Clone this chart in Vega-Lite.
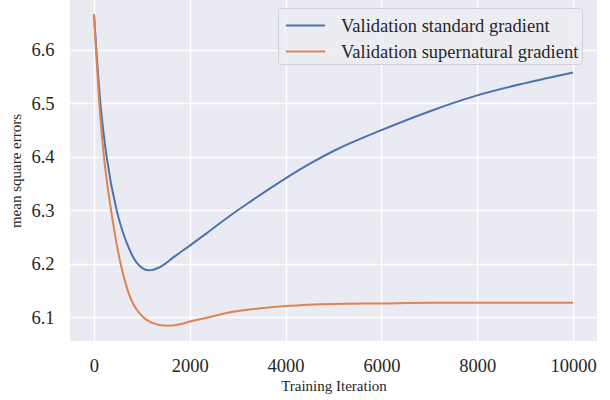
{
  "$schema": "https://vega.github.io/schema/vega-lite/v6.json",
  "width": 527,
  "height": 341,
  "autosize": {"type": "none"},
  "padding": {"left": 70, "top": 0, "right": 13, "bottom": 59},
  "background": "white",
  "config": {
    "font": "Liberation Serif",
    "view": {"fill": "#eaeaf2", "stroke": null},
    "axis": {
      "grid": true, "gridColor": "white", "gridWidth": 1.5,
      "domain": false, "ticks": false,
      "labelColor": "#262626", "titleColor": "#262626",
      "labelFont": "Liberation Serif", "titleFont": "Liberation Serif",
      "labelFontSize": 18.5, "titleFontSize": 15, "titleFontWeight": "normal"
    }
  },
  "data": {
    "values": [
      {"iter": 0, "mse": 6.667, "series": "Validation standard gradient"},
      {"iter": 50, "mse": 6.6, "series": "Validation standard gradient"},
      {"iter": 135, "mse": 6.5, "series": "Validation standard gradient"},
      {"iter": 265, "mse": 6.4, "series": "Validation standard gradient"},
      {"iter": 474, "mse": 6.3, "series": "Validation standard gradient"},
      {"iter": 600, "mse": 6.26, "series": "Validation standard gradient"},
      {"iter": 717, "mse": 6.232, "series": "Validation standard gradient"},
      {"iter": 821, "mse": 6.212, "series": "Validation standard gradient"},
      {"iter": 955, "mse": 6.196, "series": "Validation standard gradient"},
      {"iter": 1150, "mse": 6.188, "series": "Validation standard gradient"},
      {"iter": 1378, "mse": 6.194, "series": "Validation standard gradient"},
      {"iter": 1656, "mse": 6.212, "series": "Validation standard gradient"},
      {"iter": 2000, "mse": 6.234, "series": "Validation standard gradient"},
      {"iter": 2349, "mse": 6.257, "series": "Validation standard gradient"},
      {"iter": 2839, "mse": 6.29, "series": "Validation standard gradient"},
      {"iter": 3257, "mse": 6.316, "series": "Validation standard gradient"},
      {"iter": 3605, "mse": 6.337, "series": "Validation standard gradient"},
      {"iter": 4000, "mse": 6.36, "series": "Validation standard gradient"},
      {"iter": 4500, "mse": 6.387, "series": "Validation standard gradient"},
      {"iter": 5000, "mse": 6.411, "series": "Validation standard gradient"},
      {"iter": 6000, "mse": 6.45, "series": "Validation standard gradient"},
      {"iter": 7000, "mse": 6.485, "series": "Validation standard gradient"},
      {"iter": 8000, "mse": 6.515, "series": "Validation standard gradient"},
      {"iter": 9000, "mse": 6.538, "series": "Validation standard gradient"},
      {"iter": 10000, "mse": 6.558, "series": "Validation standard gradient"},
      {"iter": 0, "mse": 6.667, "series": "Validation supernatural gradient"},
      {"iter": 42, "mse": 6.6, "series": "Validation supernatural gradient"},
      {"iter": 111, "mse": 6.5, "series": "Validation supernatural gradient"},
      {"iter": 209, "mse": 6.4, "series": "Validation supernatural gradient"},
      {"iter": 358, "mse": 6.3, "series": "Validation supernatural gradient"},
      {"iter": 557, "mse": 6.2, "series": "Validation supernatural gradient"},
      {"iter": 640, "mse": 6.17, "series": "Validation supernatural gradient"},
      {"iter": 717, "mse": 6.147, "series": "Validation supernatural gradient"},
      {"iter": 820, "mse": 6.125, "series": "Validation supernatural gradient"},
      {"iter": 920, "mse": 6.111, "series": "Validation supernatural gradient"},
      {"iter": 1030, "mse": 6.1, "series": "Validation supernatural gradient"},
      {"iter": 1200, "mse": 6.09, "series": "Validation supernatural gradient"},
      {"iter": 1517, "mse": 6.084, "series": "Validation supernatural gradient"},
      {"iter": 1800, "mse": 6.087, "series": "Validation supernatural gradient"},
      {"iter": 2000, "mse": 6.092, "series": "Validation supernatural gradient"},
      {"iter": 2400, "mse": 6.1, "series": "Validation supernatural gradient"},
      {"iter": 2770, "mse": 6.108, "series": "Validation supernatural gradient"},
      {"iter": 3200, "mse": 6.114, "series": "Validation supernatural gradient"},
      {"iter": 4000, "mse": 6.121, "series": "Validation supernatural gradient"},
      {"iter": 5000, "mse": 6.125, "series": "Validation supernatural gradient"},
      {"iter": 6000, "mse": 6.126, "series": "Validation supernatural gradient"},
      {"iter": 7000, "mse": 6.127, "series": "Validation supernatural gradient"},
      {"iter": 8000, "mse": 6.127, "series": "Validation supernatural gradient"},
      {"iter": 10000, "mse": 6.127, "series": "Validation supernatural gradient"}
    ]
  },
  "mark": {"type": "line", "interpolate": "monotone", "strokeWidth": 2, "clip": true},
  "encoding": {
    "x": {
      "field": "iter", "type": "quantitative",
      "scale": {"domain": [-500, 10500], "nice": false, "zero": false},
      "axis": {"title": "Training Iteration", "values": [0, 2000, 4000, 6000, 8000, 10000],
               "format": "d",
               "labelBaseline": "alphabetic", "labelPadding": 30, "labelFlush": false,
               "titleBaseline": "alphabetic", "titleY": 49, "titleX": 263.5}
    },
    "y": {
      "field": "mse", "type": "quantitative",
      "scale": {"domain": [6.0557, 6.6934], "nice": false, "zero": false},
      "axis": {"title": "mean square errors", "values": [6.1, 6.2, 6.3, 6.4, 6.5, 6.6],
               "format": ".1f", "labelPadding": 16, "labelFlush": false,
               "titleBaseline": "alphabetic", "titleX": -50, "titleY": 170.5}
    },
    "color": {
      "field": "series", "type": "nominal",
      "scale": {"domain": ["Validation standard gradient", "Validation supernatural gradient"],
                "range": ["#4c72b0", "#dd8452"]},
      "legend": {
        "title": null, "orient": "none", "legendX": 208, "legendY": 8,
        "symbolType": "M-1.45,0H1.45", "symbolSize": 729, "symbolStrokeWidth": 2,
        "symbolOffset": 10, "symbolFillColor": "transparent",
        "labelFontSize": 18.5, "labelFont": "Liberation Serif", "labelColor": "#262626",
        "labelOffset": 21, "rowPadding": 2, "padding": 3,
        "fillColor": "rgba(236,236,243,0.85)", "strokeColor": "#d0d0d6", "cornerRadius": 3,
        "labelLimit": 400
      }
    }
  }
}
